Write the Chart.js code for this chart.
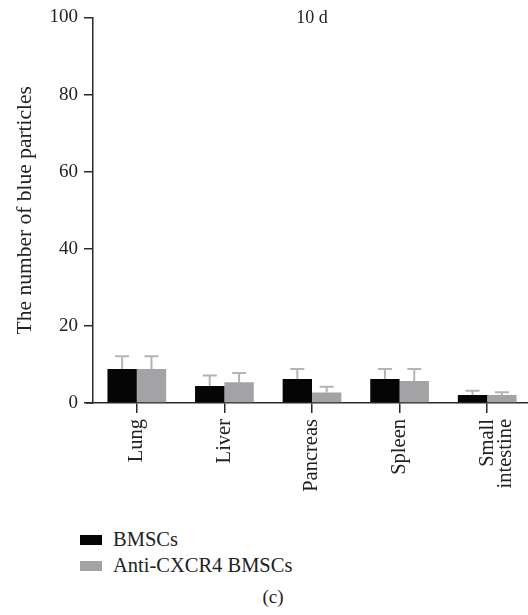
<!DOCTYPE html>
<html>
<head>
<meta charset="utf-8">
<script src="https://cdn.jsdelivr.net/npm/chart.js@4"></script>
<style>
  body { margin: 0; background: #fff; }
  #wrap { position: relative; width: 528px; height: 615px; overflow: hidden; background: #fff; }
  #box { position: absolute; left: 0; top: 0; width: 540px; height: 520px; }
  .legend { position: absolute; left: 80px; font-family: "Liberation Serif", serif; font-size: 20.5px; color: #222; }
  .legend div { height: 26px; line-height: 26px; white-space: nowrap; }
  .legend span { display: inline-block; width: 22px; height: 10px; margin-right: 11px; vertical-align: 1px; }
  #caption { position: absolute; left: 0; width: 546px; top: 586px; text-align: center; font-family: "Liberation Serif", serif; font-size: 19px; color: #222; }
</style>
</head>
<body>
<div id="wrap">
  <div id="box"><canvas id="chart"></canvas></div>
  <div class="legend" style="top:526px">
    <div><span style="background:#050505"></span>BMSCs</div>
    <div><span style="background:#a3a3a6"></span>Anti-CXCR4 BMSCs</div>
  </div>
  <div id="caption">(c)</div>
</div>
<script>
const categories = ['Lung', 'Liver', 'Pancreas', 'Spleen', ['Small', 'intestine']];
const bmscValues = [8.8, 4.4, 6.2, 6.2, 2.1];
const bmscErrors = [3.3, 2.7, 2.6, 2.6, 1.1];
const antiValues = [8.8, 5.4, 2.7, 5.7, 2.1];
const antiErrors = [3.3, 2.4, 1.5, 3.1, 0.7];
const yTicks = [0, 20, 40, 60, 80, 100];

const serif = '"Liberation Serif", "Times New Roman", serif';
const axisColor = '#2a2a2a';

const errorBars = {
    id: 'errorBars',
    afterDatasetsDraw(chart) {
        const ctx = chart.ctx;
        const yScale = chart.scales.y;
        chart.data.datasets.forEach((ds, i) => {
            const meta = chart.getDatasetMeta(i);
            meta.data.forEach((bar, j) => {
                const top = yScale.getPixelForValue(ds.data[j] + ds.errors[j]);
                ctx.save();
                ctx.strokeStyle = '#b4b4b6';
                ctx.lineWidth = 2;
                ctx.beginPath();
                ctx.moveTo(bar.x, bar.y);
                ctx.lineTo(bar.x, top);
                ctx.moveTo(bar.x - 7, top);
                ctx.lineTo(bar.x + 7, top);
                ctx.stroke();
                ctx.restore();
            });
        });
    }
};

const topTitle = {
    id: 'topTitle',
    afterDraw(chart) {
        const ctx = chart.ctx;
        const area = chart.chartArea;
        ctx.save();
        ctx.font = '18px ' + serif;
        ctx.fillStyle = '#222';
        ctx.textAlign = 'center';
        ctx.textBaseline = 'middle';
        ctx.fillText('10 d', (area.left + area.right) / 2, area.top + 1);
        // short stub of the x axis left of the y axis
        ctx.strokeStyle = axisColor;
        ctx.lineWidth = 1.5;
        ctx.beginPath();
        ctx.moveTo(area.left - 7, area.bottom);
        ctx.lineTo(area.left, area.bottom);
        ctx.stroke();
        ctx.restore();
    }
};

new Chart(document.getElementById('chart').getContext('2d'), {
    type: 'bar',
    data: {
        labels: categories,
        datasets: [{
            label: 'BMSCs',
            data: bmscValues,
            errors: bmscErrors,
            backgroundColor: '#050505',
            categoryPercentage: 0.67,
            barPercentage: 1.0
        }, {
            label: 'Anti-CXCR4 BMSCs',
            data: antiValues,
            errors: antiErrors,
            backgroundColor: '#a3a3a6',
            categoryPercentage: 0.67,
            barPercentage: 1.0
        }]
    },
    options: {
        responsive: true,
        maintainAspectRatio: false,
        animation: false,
        layout: { padding: { left: 0, top: 8, right: 9, bottom: 0 } },
        plugins: {
            legend: { display: false },
            tooltip: { enabled: false }
        },
        scales: {
            x: {
                afterFit: (scale) => { scale.height = 117; },
                grid: {
                    display: true,
                    drawOnChartArea: false,
                    drawTicks: true,
                    offset: false,
                    tickLength: 10,
                    color: axisColor,
                    lineWidth: 1.5
                },
                border: { color: axisColor, width: 1.5 },
                ticks: {
                    color: '#222',
                    font: { family: serif, size: 20.5, lineHeight: 0.9 },
                    minRotation: 90,
                    maxRotation: 90,
                    padding: 6,
                    autoSkip: false
                }
            },
            y: {
                min: 0,
                max: 100,
                afterFit: (scale) => { scale.width = 93; },
                afterBuildTicks: (scale) => { scale.ticks = yTicks.map(v => ({ value: v })); },
                grid: {
                    display: true,
                    drawOnChartArea: false,
                    drawTicks: true,
                    tickLength: 9,
                    color: axisColor,
                    lineWidth: 1.5
                },
                border: { color: axisColor, width: 1.5 },
                ticks: {
                    color: '#222',
                    font: { family: serif, size: 19 },
                    padding: 6
                },
                title: {
                    display: true,
                    text: 'The number of blue particles',
                    color: '#222',
                    font: { family: serif, size: 21.5 },
                    padding: { top: 12, bottom: 0 }
                }
            }
        }
    },
    plugins: [errorBars, topTitle]
});
</script>
</body>
</html>
